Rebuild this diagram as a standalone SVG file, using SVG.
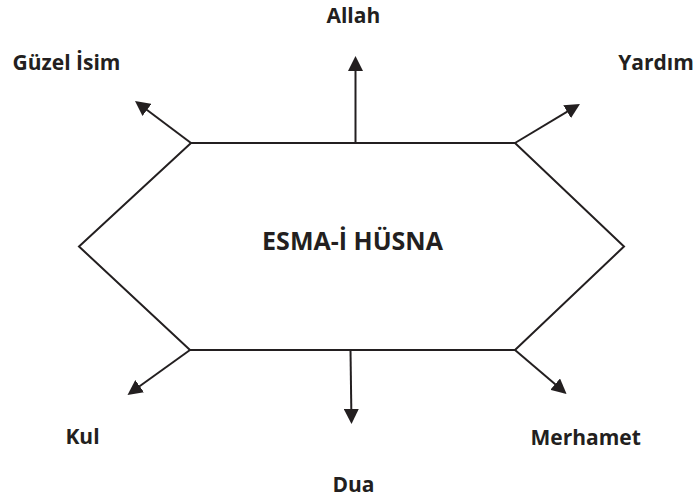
<svg xmlns="http://www.w3.org/2000/svg" width="694" height="499" viewBox="0 0 694 499">
<style>
.lbl{font-family:"Open Sans","Liberation Sans",sans-serif;font-weight:bold;font-size:21px;fill:#231f20;text-anchor:middle}
.big{font-size:25px}
.edge{stroke:#231f20;stroke-width:2;fill:none}
</style>
<defs>
<marker id="ah" viewBox="0 0 15 15" refX="7" refY="7.5" markerWidth="15" markerHeight="15" markerUnits="userSpaceOnUse" orient="auto">
<path d="M0,0 L15,7.5 L0,15 z" fill="#231f20"/>
</marker>
</defs>
<rect width="694" height="499" fill="#fff"/>
<g id="center">
<polygon points="191,143 515,143 624,246.5 515,350 190,350 79,246.5" fill="#fff" stroke="#231f20" stroke-width="2"/>
<text class="lbl big" x="352.5" y="249.5">ESMA-İ HÜSNA</text>
</g>
<g id="connectors">
<line class="edge" x1="355.5" y1="143" x2="355.5" y2="64" marker-end="url(#ah)"/>
<line class="edge" x1="191" y1="143" x2="141.4" y2="105.7" marker-end="url(#ah)"/>
<line class="edge" x1="515" y1="143" x2="573.1" y2="108.1" marker-end="url(#ah)"/>
<line class="edge" x1="190" y1="350" x2="134" y2="390.3" marker-end="url(#ah)"/>
<line class="edge" x1="350.5" y1="350" x2="351.4" y2="416" marker-end="url(#ah)"/>
<line class="edge" x1="515" y1="350" x2="560.5" y2="388.7" marker-end="url(#ah)"/>
</g>
<g id="allah"><text class="lbl" x="353.3" y="22.7">Allah</text></g>
<g id="guzel-isim"><text class="lbl" x="66.5" y="70">Güzel İsim</text></g>
<g id="yardim"><text class="lbl" x="656" y="70">Yardım</text></g>
<g id="kul"><text class="lbl" x="82.5" y="444.3">Kul</text></g>
<g id="dua"><text class="lbl" x="353.5" y="491.7">Dua</text></g>
<g id="merhamet"><text class="lbl" x="585.7" y="445">Merhamet</text></g>
</svg>
